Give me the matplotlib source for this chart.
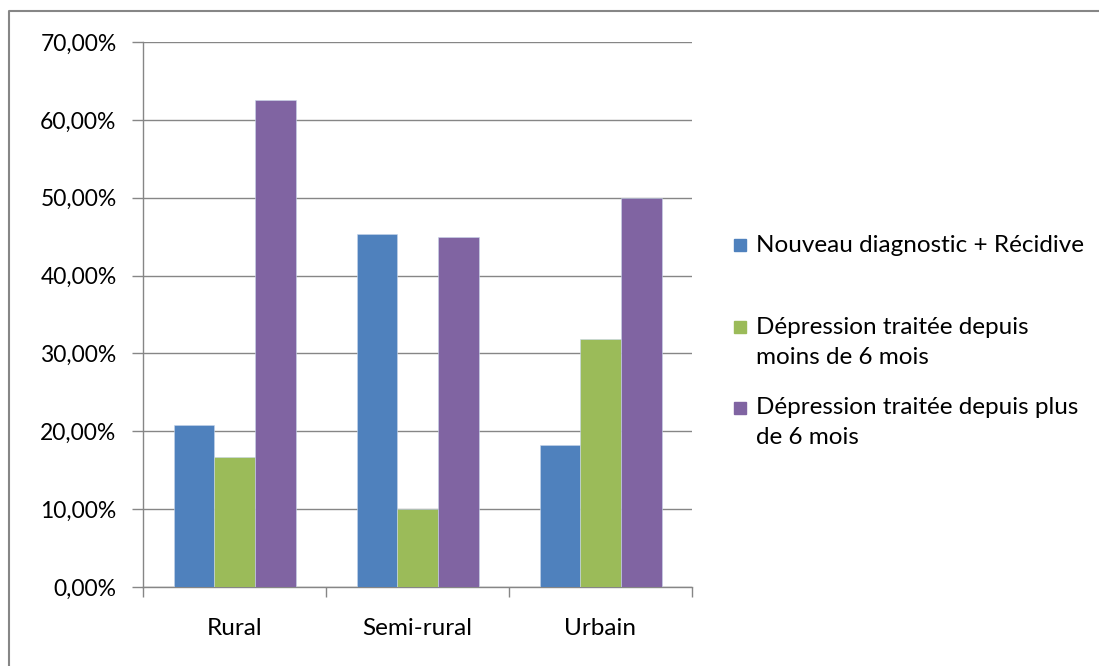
import numpy as np
import matplotlib.pyplot as plt
from matplotlib.lines import Line2D
from matplotlib.patches import Rectangle
from matplotlib.ticker import FuncFormatter

plt.rcParams['font.family'] = ['Lato', 'DejaVu Sans']

categories = ['Rural', 'Semi-rural', 'Urbain']
series_names = ['Nouveau diagnostic + Récidive',
                'Dépression traitée depuis\nmoins de 6 mois',
                'Dépression traitée depuis plus\nde 6 mois']
nouveau = [20.8, 45.3, 18.2]
moins6 = [16.7, 10.0, 31.8]
plus6 = [62.5, 45.0, 50.0]
colors = ['#4F81BD', '#9BBB59', '#8064A2']

W, H = 1099, 666
fig = plt.figure(figsize=(W / 100, H / 100), dpi=100)

# chart area border (cropped: only top and left edges show)
fig.lines.append(Line2D([8.5 / W, 8.5 / W, 1], [0, 1 - 10.5 / H, 1 - 10.5 / H],
                        transform=fig.transFigure, color='#868686', linewidth=1.5))

ax = fig.add_axes([143 / W, 1 - 587 / H, (692 - 143) / W, (587 - 42) / H])

x = np.arange(len(categories))
bw = 1 / 4.5
for i, vals in enumerate([nouveau, moins6, plus6]):
    ax.bar(x + (i - 1) * bw, vals, bw, color=colors[i],
           edgecolor='#c8d6ea', linewidth=0.4, zorder=3)

ax.set_xlim(-0.5, 2.5)
ax.set_ylim(0, 70)
ax.set_yticks(np.arange(0, 71, 10))
ax.yaxis.set_major_formatter(FuncFormatter(lambda v, p: f'{v:.2f}%'.replace('.', ',')))
ax.grid(axis='y', color='#868686', linewidth=1, zorder=0)

ax.set_xticks(x)
ax.set_xticklabels(categories)
ax.set_xticks([-0.5, 0.5, 1.5, 2.5], minor=True)
ax.tick_params(axis='x', which='major', length=0, pad=22, labelsize=17.5)
ax.tick_params(axis='x', which='minor', length=7, color='#868686', width=1)
ax.tick_params(axis='y', length=8, color='#868686', width=1, labelsize=16.5, pad=11)

for s in ['top', 'right']:
    ax.spines[s].set_visible(False)
for s in ['left', 'bottom']:
    ax.spines[s].set_color('#868686')
    ax.spines[s].set_linewidth(1)

# legend drawn like Excel's: one square per series, lines 30 px apart
leg_y = [245, 327, 408]
for i, name in enumerate(series_names):
    yc = leg_y[i]
    fig.patches.append(Rectangle((734 / W, 1 - (yc + 6) / H), 12 / W, 12 / H,
                                 transform=fig.transFigure, color=colors[i]))
    for j, line in enumerate(name.split('\n')):
        fig.text(756 / W, 1 - (yc + 30 * j) / H, line, fontsize=17.5,
                 va='center', ha='left')

fig.savefig('out.png', dpi=100)
